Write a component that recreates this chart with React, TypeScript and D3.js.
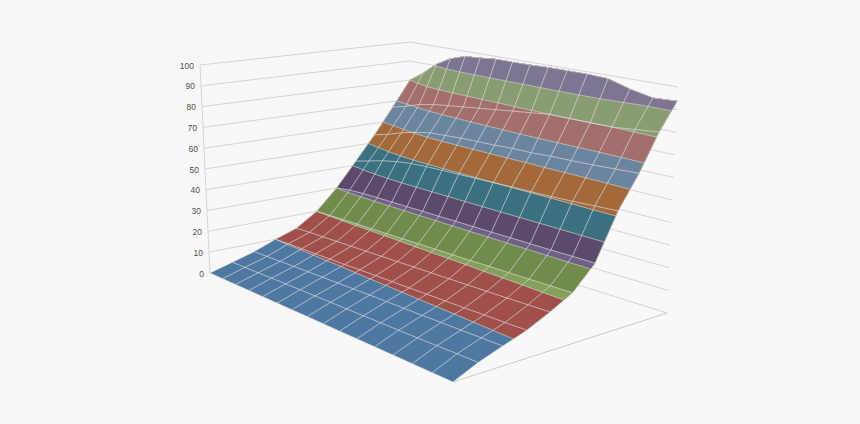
import React from "react";
import * as d3 from "d3";

const zTicks = [0, 10, 20, 30, 40, 50, 60, 70, 80, 90, 100];
const bandLevels = [0, 10, 20, 30, 40, 50, 60, 70, 80, 90];
const bandColors = ["#4e78a2", "#a04f4b", "#718b4c", "#5c4a6c", "#3a7080", "#a3693a", "#6c859e", "#a36f6c", "#8a9c72", "#7f7492"];
const lightStrips = [
  { band: 2, row: 5, color: "#84a05a" },
  { band: 3, row: 6, color: "#6f6085" },
];

const row0 = [0, 0, 0, 0, 0, 0, 0, 0, 0, 0, 0, 0, 0, 0, 0, 0];
const row1 = [3, 3.1, 3.2, 3.4, 3.5, 3.6, 3.7, 3.8, 3.9, 4, 4.1, 4.2, 4.3, 4.5, 4.7, 4.8];
const row2 = [6, 6.2, 6.4, 6.6, 6.8, 7, 7.1, 7.3, 7.5, 7.6, 7.7, 7.8, 8, 8.1, 8.3, 8.4];
const row3 = [10, 10.2, 10.3, 10.4, 10.5, 10.6, 10.8, 10.9, 11, 11.1, 11.3, 11.4, 11.5, 11.7, 11.8, 12];
const row4 = [13.5, 13.8, 14, 14.2, 14.4, 14.6, 14.8, 15, 15.2, 15.4, 15.6, 15.8, 16, 16.2, 16.5, 16.7];
const row5 = [20, 20.2, 20.4, 20.5, 20.6, 20.7, 20.8, 21, 21.1, 21.2, 21.3, 21.5, 21.6, 21.7, 21.9, 22];
const row6 = [30, 31, 31.4, 31.5, 31.6, 31.6, 31.7, 31.7, 31.8, 31.8, 31.8, 31.9, 31.9, 31.9, 32, 32];
const row7 = [42, 44, 46, 47.5, 48.5, 49, 49.3, 49.5, 49.7, 50, 50.2, 50.4, 50.6, 51, 51.5, 52];
const row8 = [54, 56, 58.5, 60.5, 62, 62.5, 63, 63.3, 63.5, 64, 64, 64.5, 64.7, 65, 65.5, 66];
const row9 = [67, 69, 71.5, 73, 74, 75, 76, 77, 78, 79, 80, 80, 80, 80, 81, 82];
const row10 = [80, 85, 91, 95, 97.5, 98, 98.7, 98.7, 98.7, 99, 99, 99, 98.5, 95.5, 93.3, 93.8];
const rows = [row0, row1, row2, row3, row4, row5, row6, row7, row8, row9, row10];

type P = [number, number];
const floorQuad: P[] = [[210, 273], [453, 382], [667, 313], [410, 232]];
const topQuad: P[] = [[200, 65], [454, 141], [678, 87], [410, 42]];

function homography(q: P[]) {
  const [[x0, y0], [x1, y1], [x2, y2], [x3, y3]] = q;
  const sx = x0 - x1 + x2 - x3, sy = y0 - y1 + y2 - y3;
  const dx1 = x1 - x2, dx2 = x3 - x2, dy1 = y1 - y2, dy2 = y3 - y2;
  const den = dx1 * dy2 - dx2 * dy1;
  const g = (sx * dy2 - dx2 * sy) / den, h = (dx1 * sy - sx * dy1) / den;
  const a = x1 - x0 + g * x1, b = x3 - x0 + h * x3, d = y1 - y0 + g * y1, e = y3 - y0 + h * y3;
  return (u: number, v: number): P => {
    const w = g * u + h * v + 1;
    return [(a * u + b * v + x0) / w, (d * u + e * v + y0) / w];
  };
}
const floorH = homography(floorQuad);
const topH = homography(topQuad);
const nCols = row0.length, nRows = rows.length;
const uScale = d3.scaleLinear().domain([0, nCols - 1]).range([0, 1]);
const vScale = d3.scaleLinear().domain([0, nRows - 1]).range([0, 1]);
const zScale = d3.scaleLinear().domain([0, 100]).range([0, 1]);

function project(u: number, v: number, z: number): P {
  const f = floorH(u, v), t = topH(u, v), k = zScale(z);
  return [f[0] + (t[0] - f[0]) * k, f[1] + (t[1] - f[1]) * k];
}
const grid = (c: number, r: number, z: number) => project(uScale(c), vScale(r), z);
const line = d3.line<P>();

const values = rows.flat();
const contours = d3.contours().size([nCols, nRows]).thresholds(bandLevels)(values);
const toIdx = (c: number, n: number) => Math.max(0, Math.min(n - 1, c - 0.5));
function surfaceZ(c: number, r: number) {
  const c0 = Math.min(nCols - 2, Math.floor(c)), r0 = Math.min(nRows - 2, Math.floor(r));
  const a = c - c0, b = r - r0;
  return (rows[r0][c0] * (1 - a) + rows[r0][c0 + 1] * a) * (1 - b) + (rows[r0 + 1][c0] * (1 - a) + rows[r0 + 1][c0 + 1] * a) * b;
}
const mapPt = (pt: number[]) => {
  const c = toIdx(pt[0], nCols), r = toIdx(pt[1], nRows);
  return grid(c, r, surfaceZ(c, r));
};
const onEdge = (pt: number[]) => pt[0] <= 0.5 || pt[0] >= nCols - 0.5 || pt[1] <= 0.5 || pt[1] >= nRows - 0.5;

function bandPaths(c: any) {
  let fill = "", stroke = "";
  for (const poly of c.coordinates) {
    for (const ring of poly) {
      fill += line(ring.map((p: number[]) => mapPt(p))) + "Z";
      for (let i = 1; i < ring.length; i++) {
        if (onEdge(ring[i]) && onEdge(ring[i - 1])) continue;
        stroke += line([mapPt(ring[i - 1]), mapPt(ring[i])]);
      }
    }
  }
  return { fill, stroke };
}
const belowRow = (j: number) =>
  line([...rows[j].map((z, i) => grid(i, j, z)), project(1, 0, 0), project(0, 0, 0)]) + "Z";

export default function App() {
  const wallColor = "#d4d4d4";
  return (
    <svg width={860} height={424} style={{ position: "absolute", left: 0, top: 0, background: "#f8f8f8" }}>
      <defs>
        {lightStrips.map((s) => (
          <clipPath key={s.band} id={"below" + s.band}>
            <path d={belowRow(s.row)} />
          </clipPath>
        ))}
      </defs>
      {zTicks.map((z) => (
        <g key={z}>
          <path d={line([project(0, 0, z), project(0, 1, z), project(1, 1, z)])!} fill="none" stroke={wallColor} strokeWidth={1} />
          <text x={project(0, 0, z)[0] - 6} y={project(0, 0, z)[1] + 0.6} dy="0.35em" textAnchor="end" fontFamily="Liberation Sans, sans-serif" fontSize={8.5} fill="#505050">{z}</text>
        </g>
      ))}
      <path d={line([project(0, 0, 0), project(0, 0, 100)])!} stroke={wallColor} fill="none" />
      <path d={line([project(1, 0, 0), project(1, 1, 0)])!} stroke="#c8c8c8" fill="none" />
      {contours.map((c: any, i: number) => {
        const { fill, stroke } = bandPaths(c);
        const strip = lightStrips.find((s) => s.band === i);
        return (
          <g key={c.value}>
            <path d={fill} fill={bandColors[i]} fillRule="evenodd" />
            {strip && <path d={fill} fill={strip.color} fillRule="evenodd" clipPath={`url(#below${i})`} />}
            {stroke && <path d={stroke} fill="none" stroke="#c9cdc4" strokeOpacity={0.7} strokeWidth={1} />}
          </g>
        );
      })}
      {rows.map((r, j) => (
        <path key={"r" + j} d={line(r.map((z, i) => grid(i, j, z)))!} fill="none" stroke="#dfdfdf" strokeOpacity={0.65} strokeWidth={1} />
      ))}
      {row0.map((_, i) => (
        <path key={"c" + i} d={line(rows.map((r, j) => grid(i, j, r[i])))!} fill="none" stroke="#dfdfdf" strokeOpacity={0.65} strokeWidth={1} />
      ))}
    </svg>
  );
}
